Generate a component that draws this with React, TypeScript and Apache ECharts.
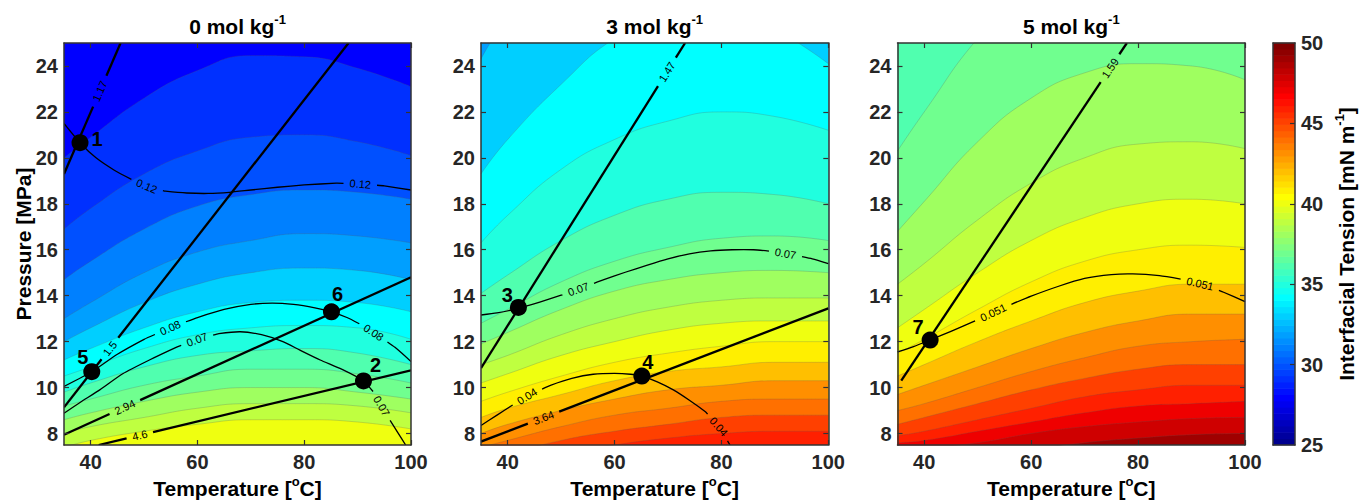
import { useEffect, useRef } from "react";
import * as echarts from "echarts";

// ---------- data ----------
const TEMPS = [35, 40, 50, 60, 70, 80, 90, 100];
const T_TICKS = [40, 60, 80, 100];
const P_TICKS = [8, 10, 12, 14, 16, 18, 20, 22, 24];
const CBAR_TICKS = [25, 30, 35, 40, 45, 50];
const CBAR_INNER_TICKS = [30, 35, 40, 45];
const MOLALITIES = ["0", "3", "5"];

// Interfacial tension isolines (mN m-1): pressure (MPa) at each of TEMPS
const FLOOR_0M = 28;
const LEVELS_0M = [29, 30, 31, 32, 33, 34, 35, 36, 37, 38, 39, 40];
const ISOLINES_0M = [
  [20.0, 20.9, 22.6, 23.8, 24.45, 24.4, 23.9, 23.1],
  [16.9, 17.8, 19.3, 20.3, 20.9, 21.0, 20.7, 20.1],
  [14.7, 15.5, 16.9, 17.9, 18.4, 18.6, 18.5, 18.2],
  [13.0, 13.7, 15.0, 15.9, 16.4, 16.7, 16.6, 16.3],
  [12.0, 12.6, 13.7, 14.5, 15.0, 15.2, 15.1, 14.7],
  [11.2, 11.7, 12.6, 13.3, 13.7, 13.8, 13.7, 13.3],
  [10.5, 10.9, 11.7, 12.3, 12.6, 12.7, 12.6, 12.1],
  [9.8, 10.2, 10.9, 11.4, 11.6, 11.7, 11.5, 11.0],
  [9.2, 9.5, 10.1, 10.5, 10.8, 10.8, 10.6, 10.2],
  [8.6, 8.9, 9.4, 9.8, 10.0, 10.0, 9.8, 9.5],
  [8.0, 8.3, 8.7, 9.1, 9.3, 9.3, 9.2, 8.9],
  [7.4, 7.7, 8.1, 8.4, 8.6, 8.6, 8.5, 8.2],
];

const FLOOR_3M = 32;
const LEVELS_3M = [33, 34, 35, 36, 37, 38, 39, 40, 41, 42, 43, 44, 45, 46];
const ISOLINES_3M = [
  [24.3, 26.0, 28.0, 29.0, 30.0, 30.0, 29.5, 29.0],
  [19.3, 20.8, 23.2, 25.2, 26.3, 26.6, 25.6, 24.1],
  [16.3, 17.5, 19.5, 20.8, 21.6, 22.0, 21.8, 21.2],
  [14.1, 14.9, 16.4, 17.5, 18.2, 18.5, 18.4, 18.0],
  [12.8, 13.4, 14.6, 15.5, 16.1, 16.5, 16.6, 16.4],
  [11.9, 12.4, 13.4, 14.2, 14.7, 15.0, 15.1, 15.0],
  [11.0, 11.4, 12.3, 13.0, 13.5, 13.8, 13.9, 13.9],
  [10.2, 10.6, 11.4, 12.0, 12.5, 12.8, 12.9, 12.9],
  [9.4, 9.8, 10.5, 11.1, 11.5, 11.8, 12.0, 12.0],
  [8.7, 9.1, 9.7, 10.3, 10.7, 10.9, 11.1, 11.1],
  [8.0, 8.4, 9.0, 9.5, 9.9, 10.1, 10.3, 10.3],
  [7.4, 7.7, 8.3, 8.8, 9.1, 9.4, 9.5, 9.5],
  [6.8, 7.1, 7.7, 8.1, 8.4, 8.7, 8.8, 8.8],
  [6.2, 6.5, 7.1, 7.5, 7.8, 8.0, 8.1, 8.1],
];

const FLOOR_5M = 36;
const LEVELS_5M = [37, 38, 39, 40, 41, 42, 43, 44, 45, 46, 47, 48, 49];
const ISOLINES_5M = [
  [20.3, 22.0, 25.2, 27.5, 29.0, 30.0, 30.5, 31.0],
  [16.8, 18.1, 20.7, 22.6, 23.7, 24.1, 24.0, 23.4],
  [14.5, 15.4, 17.3, 18.9, 20.0, 20.6, 20.7, 20.4],
  [12.6, 13.4, 15.0, 16.4, 17.4, 18.0, 18.2, 18.0],
  [11.5, 12.1, 13.4, 14.6, 15.5, 16.0, 16.2, 16.1],
  [10.5, 11.0, 12.0, 12.9, 13.7, 14.2, 14.5, 14.5],
  [9.7, 10.1, 10.9, 11.7, 12.4, 12.9, 13.2, 13.2],
  [9.0, 9.3, 10.0, 10.7, 11.3, 11.8, 12.0, 12.1],
  [8.4, 8.7, 9.3, 9.9, 10.4, 10.8, 11.0, 11.0],
  [7.9, 8.1, 8.6, 9.1, 9.6, 9.9, 10.1, 10.1],
  [7.6, 7.7, 8.1, 8.5, 8.9, 9.2, 9.3, 9.4],
  [7.3, 7.35, 7.6, 8.0, 8.3, 8.5, 8.65, 8.7],
  [6.6, 6.7, 7.0, 7.3, 7.6, 7.8, 7.95, 8.0],
];

type Curve = { text: string; pts: number[][]; labelAt: number[] };

// straight isolines (labelled values), [T, P] end points
const STRAIGHT_0M: Curve[] = [
  { text: "1.17", pts: [[35, 19.3], [45.6, 25]], labelAt: [41.7] },
  { text: "1.5", pts: [[35, 9.14], [88.3, 25]], labelAt: [43.6] },
  { text: "2.94", pts: [[35, 7.95], [100, 14.8]], labelAt: [46.4] },
  { text: "4.6", pts: [[41.5, 7.5], [100, 10.75]], labelAt: [49.2] },
];
const CONTOURS_0M: Curve[] = [
  {
    text: "0.12",
    pts: [[35, 21.5], [38, 20.66], [41, 20.0], [44.5, 19.45], [48, 19.02], [51, 18.72], [54, 18.55], [58, 18.47], [62, 18.45], [66, 18.5], [70, 18.6], [75, 18.72], [80, 18.82], [86, 18.9], [90, 18.88], [95, 18.78], [100, 18.6]],
    labelAt: [50.5, 90.5],
  },
  {
    text: "0.08",
    pts: [[35, 10.05], [40.2, 10.69], [45, 11.45], [50, 12.1], [55, 12.62], [60, 13.05], [65, 13.4], [70, 13.62], [74, 13.68], [78, 13.62], [82, 13.47], [85.1, 13.3], [88, 13.05], [91, 12.7], [94, 12.25], [97, 11.75], [100, 11.13]],
    labelAt: [54.9, 93],
  },
  {
    text: "0.07",
    pts: [[35, 8.88], [38, 9.35], [41.7, 9.9], [46, 10.6], [51, 11.2], [56, 11.75], [60, 12.1], [64, 12.35], [68, 12.43], [72, 12.3], [76, 12.0], [79.2, 11.63], [83, 11.2], [87, 10.8], [91.1, 10.29], [93, 9.8], [94.5, 9.2], [96, 8.6], [97.5, 8.05], [99, 7.5]],
    labelAt: [59.9, 94.5],
  },
];

const STRAIGHT_3M: Curve[] = [
  { text: "1.47", pts: [[35, 10.85], [73.2, 25]], labelAt: [69.8] },
  { text: "3.64", pts: [[35, 7.65], [100, 13.45]], labelAt: [46.7] },
];
const CONTOURS_3M: Curve[] = [
  {
    text: "0.07",
    pts: [[35, 13.16], [38, 13.25], [42, 13.45], [46, 13.72], [50, 14.02], [54, 14.35], [58, 14.7], [62, 15.02], [66, 15.32], [70, 15.6], [74, 15.82], [78, 15.95], [82, 16.0], [86, 16.0], [90, 15.92], [94, 15.75], [97, 15.6], [100, 15.4]],
    labelAt: [53.2, 92],
  },
  {
    text: "0.04",
    pts: [[35, 8.35], [38, 8.8], [41, 9.25], [44, 9.68], [48, 10.1], [52, 10.4], [56, 10.58], [60, 10.62], [63, 10.58], [65.1, 10.5], [68, 10.25], [71, 9.9], [74, 9.45], [77, 8.95], [79.5, 8.3], [81.6, 7.5]],
    labelAt: [43.6, 79.5],
  },
];

const STRAIGHT_5M: Curve[] = [
  { text: "1.59", pts: [[35.7, 10.3], [77.9, 25]], labelAt: [74.75] },
];
const CONTOURS_5M: Curve[] = [
  {
    text: "0.051",
    pts: [[35, 11.55], [38, 11.78], [41.1, 12.07], [45, 12.45], [50, 12.95], [55, 13.5], [60, 13.98], [65, 14.4], [70, 14.75], [75, 14.92], [79, 14.95], [84, 14.87], [88, 14.72], [92, 14.5], [96, 14.15], [100, 13.74]],
    labelAt: [52.9, 91.6],
  },
];

// numbered state points [T, P]
const POINTS_0M = [
  { id: "1", t: 38.0, p: 20.66 },
  { id: "5", t: 40.2, p: 10.69 },
  { id: "6", t: 85.1, p: 13.3 },
  { id: "2", t: 91.1, p: 10.29 },
];
const POINTS_3M = [
  { id: "3", t: 42.0, p: 13.49 },
  { id: "4", t: 65.1, p: 10.5 },
];
const POINTS_5M = [{ id: "7", t: 41.1, p: 12.07 }];

// ---------- layout / style ----------
const FONT = "'Liberation Sans', Arial, Helvetica, sans-serif";
const INK = "#262626";
const AXIS_COLOR = "#333333";
const PANEL_LEFT = [64, 481, 897.5];
const PANEL_WIDTH = [347, 347.3, 347.5];
const PLOT_TOP = 43;
const PLOT_HEIGHT = 402;
const LABEL_OFFSET: Record<string, number[]> = {
  "1": [17, -4],
  "2": [12, -16],
  "3": [-11, -12],
  "4": [6, -14],
  "5": [-9, -15],
  "6": [6, -18],
  "7": [-12, -13],
};

// MATLAB-style jet(64) colormap
function jetRow(k: number): number[] {
  const u = (j: number) => (j < 1 || j > 47 ? 0 : j <= 16 ? j / 16 : j <= 31 ? 1 : (48 - j) / 16);
  return [u(k - 24), u(k - 8), u(k + 8)];
}
function css(c: number[]) {
  return `rgb(${Math.round(c[0] * 255)},${Math.round(c[1] * 255)},${Math.round(c[2] * 255)})`;
}
function levelColor(v: number) {
  const idx = Math.min(64, Math.max(1, Math.floor(((v - 25) / 25) * 64) + 1));
  return css(jetRow(idx));
}

// draws polylines broken around inline labels, labels rotated along the curve
function drawCurves(curves: Curve[], width: number, api: any) {
  const out: any[] = [];
  for (const c of curves) {
    const px = c.pts.map((p) => api.coord(p) as number[]);
    const cum = [0];
    for (let i = 1; i < px.length; i++) {
      cum.push(cum[i - 1] + Math.hypot(px[i][0] - px[i - 1][0], px[i][1] - px[i - 1][1]));
    }
    const total = cum[cum.length - 1];
    const at = (s: number) => {
      let i = 0;
      while (i < px.length - 2 && cum[i + 1] < s) i++;
      const L = cum[i + 1] - cum[i] || 1;
      const f = Math.max(0, Math.min(1, (s - cum[i]) / L));
      return [px[i][0] + f * (px[i + 1][0] - px[i][0]), px[i][1] + f * (px[i + 1][1] - px[i][1])];
    };
    const gaps: number[][] = [];
    for (const t of c.labelAt) {
      let i = 0;
      while (i < c.pts.length - 2 && c.pts[i + 1][0] < t) i++;
      const f = (t - c.pts[i][0]) / (c.pts[i + 1][0] - c.pts[i][0]);
      const s0 = cum[i] + f * (cum[i + 1] - cum[i]);
      const dx = px[i + 1][0] - px[i][0];
      const dy = px[i + 1][1] - px[i][1];
      const pos = at(s0);
      const half = c.text.length * 3.2 + 4;
      gaps.push([s0 - half, s0 + half]);
      out.push({
        type: "text",
        x: pos[0],
        y: pos[1],
        rotation: Math.atan2(-dy, dx),
        style: {
          text: c.text,
          x: 0,
          y: 0,
          fill: "#000",
          fontSize: 11,
          fontFamily: FONT,
          align: "center",
          verticalAlign: "middle",
        },
      });
    }
    gaps.sort((a, b) => a[0] - b[0]);
    let start = 0;
    const keep: number[][] = [];
    for (const [a, b] of gaps) {
      if (a > start) keep.push([start, a]);
      start = Math.max(start, b);
    }
    if (start < total) keep.push([start, total]);
    for (const [u, v] of keep) {
      const pts = [at(u)];
      for (let i = 0; i < px.length; i++) if (cum[i] > u && cum[i] < v) pts.push(px[i]);
      pts.push(at(v));
      out.push({
        type: "polyline",
        shape: { points: pts, smooth: 0.2 },
        style: { stroke: "#000", lineWidth: width, fill: "none" },
      });
    }
  }
  return out;
}

const supRich = (size: number) => ({
  sup: { fontSize: size, lineHeight: size, verticalAlign: "top", fontWeight: "bold", fontFamily: FONT, fill: "#000" },
});

function boldText(x: number, y: number, text: string, size: number, rotation = 0) {
  return {
    type: "text",
    x,
    y,
    rotation,
    style: {
      text,
      x: 0,
      y: 0,
      fontSize: size,
      lineHeight: size + 5,
      fontWeight: "bold",
      fontFamily: FONT,
      fill: "#000",
      align: "center",
      verticalAlign: "middle",
      rich: supRich(Math.round(size * 0.62)),
    },
  };
}

function buildOption() {
  const floors = [FLOOR_0M, FLOOR_3M, FLOOR_5M];
  const levels = [LEVELS_0M, LEVELS_3M, LEVELS_5M];
  const isolines = [ISOLINES_0M, ISOLINES_3M, ISOLINES_5M];
  const straight = [STRAIGHT_0M, STRAIGHT_3M, STRAIGHT_5M];
  const contours = [CONTOURS_0M, CONTOURS_3M, CONTOURS_5M];
  const points = [POINTS_0M, POINTS_3M, POINTS_5M];

  const lineStyle = { color: AXIS_COLOR, width: 1.5 };
  const tickStyle = { color: AXIS_COLOR, width: 1.2 };
  const labelStyle = { fontSize: 20, fontWeight: "bold", color: INK, fontFamily: FONT };

  const grid: any[] = [];
  const xAxis: any[] = [];
  const yAxis: any[] = [];
  const series: any[] = [];
  const graphic: any[] = [];

  for (let i = 0; i < 3; i++) {
    grid.push({
      left: PANEL_LEFT[i],
      top: PLOT_TOP,
      width: PANEL_WIDTH[i],
      height: PLOT_HEIGHT,
      show: true,
      backgroundColor: levelColor(floors[i]),
      borderWidth: 0,
      outerBoundsMode: "none",
    });
    for (const pos of ["bottom", "top"]) {
      xAxis.push({
        gridIndex: i,
        type: "value",
        min: 35,
        max: 100,
        position: pos,
        z: 10,
        axisLine: { show: true, onZero: false, lineStyle },
        axisTick: { show: true, inside: true, length: 5, customValues: T_TICKS, lineStyle: tickStyle },
        axisLabel: { show: pos === "bottom", customValues: T_TICKS, margin: 7, ...labelStyle },
        splitLine: { show: false },
      });
    }
    for (const pos of ["left", "right"]) {
      yAxis.push({
        gridIndex: i,
        type: "value",
        min: 7.5,
        max: 25,
        position: pos,
        z: 10,
        axisLine: { show: true, onZero: false, lineStyle },
        axisTick: { show: true, inside: true, length: 5, customValues: P_TICKS, lineStyle: tickStyle },
        axisLabel: { show: pos === "left", customValues: P_TICKS, margin: 6, ...labelStyle },
        splitLine: { show: false },
      });
    }

    // filled interfacial tension bands: each isoline fills everything below it
    levels[i].forEach((lv, k) => {
      series.push({
        type: "line",
        xAxisIndex: 2 * i,
        yAxisIndex: 2 * i,
        data: TEMPS.map((t, j) => [t, isolines[i][k][j]]),
        smooth: 0.5,
        symbol: "none",
        silent: true,
        clip: true,
        z: 2,
        lineStyle: { color: "rgba(90,90,90,0.4)", width: 0.6 },
        areaStyle: { color: levelColor(lv), opacity: 1, origin: "start" },
      });
    });

    const st = straight[i];
    const ct = contours[i];
    series.push({
      type: "custom",
      xAxisIndex: 2 * i,
      yAxisIndex: 2 * i,
      clip: true,
      silent: true,
      z: 3,
      data: [[60, 15]],
      renderItem: (_p: any, api: any) => ({
        type: "group",
        children: [...drawCurves(st, 2.3, api), ...drawCurves(ct, 1.3, api)],
      }),
    });

    series.push({
      type: "scatter",
      xAxisIndex: 2 * i,
      yAxisIndex: 2 * i,
      symbolSize: 17,
      silent: true,
      z: 4,
      itemStyle: { color: "#000", opacity: 1 },
      label: {
        show: true,
        position: "inside",
        formatter: "{b}",
        fontSize: 20,
        fontWeight: "bold",
        color: "#000",
        fontFamily: FONT,
      },
      data: points[i].map((m) => ({ name: m.id, value: [m.t, m.p], label: { offset: LABEL_OFFSET[m.id] } })),
    });

    const cx = PANEL_LEFT[i] + PANEL_WIDTH[i] / 2;
    graphic.push(boldText(cx, 26, `${MOLALITIES[i]} mol kg{sup|-1}`, 21));
    graphic.push(boldText(cx, 488, "Temperature [{sup|o}C]", 21));
  }
  graphic.push(boldText(23, 244, "Pressure [MPa]", 21, Math.PI / 2));
  graphic.push(boldText(1346, 244, "Interfacial Tension [mN m{sup|-1}]", 21, Math.PI / 2));

  // colour bar
  grid.push({ left: 1273, top: PLOT_TOP, width: 22, height: PLOT_HEIGHT, outerBoundsMode: "none" });
  for (const pos of ["bottom", "top"]) {
    xAxis.push({
      gridIndex: 3,
      type: "value",
      min: 0,
      max: 1,
      position: pos,
      z: 10,
      axisLine: { show: true, onZero: false, lineStyle },
      axisTick: { show: false },
      axisLabel: { show: false },
      splitLine: { show: false },
    });
  }
  yAxis.push({
    gridIndex: 3,
    type: "value",
    min: 25,
    max: 50,
    position: "left",
    z: 10,
    axisLine: { show: true, onZero: false, lineStyle },
    axisTick: { show: false },
    axisLabel: { show: false },
    splitLine: { show: false },
  });
  yAxis.push({
    gridIndex: 3,
    type: "value",
    min: 25,
    max: 50,
    position: "right",
    z: 10,
    axisLine: { show: true, onZero: false, lineStyle },
    axisTick: { show: true, inside: true, length: 5, customValues: CBAR_INNER_TICKS, lineStyle: tickStyle },
    axisLabel: { show: true, customValues: CBAR_TICKS, margin: 6, ...labelStyle },
    splitLine: { show: false },
  });
  const steps = Array.from({ length: 64 }, (_, i) => [0.5, 25 + ((i + 0.5) * 25) / 64, i]);
  series.push({
    type: "custom",
    xAxisIndex: 6,
    yAxisIndex: 6,
    silent: true,
    z: 2,
    data: steps,
    renderItem: (_p: any, api: any) => {
      const i = api.value(2);
      const a = api.coord([0, 25 + (i * 25) / 64]);
      const b = api.coord([1, 25 + ((i + 1) * 25) / 64]);
      return {
        type: "rect",
        shape: { x: a[0], y: b[1] - 0.3, width: b[0] - a[0], height: a[1] - b[1] + 0.6 },
        style: { fill: css(jetRow(i + 1)), stroke: "none" },
      };
    },
  });

  return {
    animation: false,
    backgroundColor: "#ffffff",
    grid,
    xAxis,
    yAxis,
    series,
    graphic,
  };
}

export default function App() {
  const ref = useRef<HTMLDivElement>(null);
  useEffect(() => {
    const chart = echarts.init(ref.current as HTMLDivElement, null, { renderer: "svg" });
    chart.setOption(buildOption() as any);
    return () => chart.dispose();
  }, []);
  return (
    <div
      ref={ref}
      style={{ position: "fixed", left: 0, top: 0, width: 1360, height: 502, background: "#fff" }}
    />
  );
}
